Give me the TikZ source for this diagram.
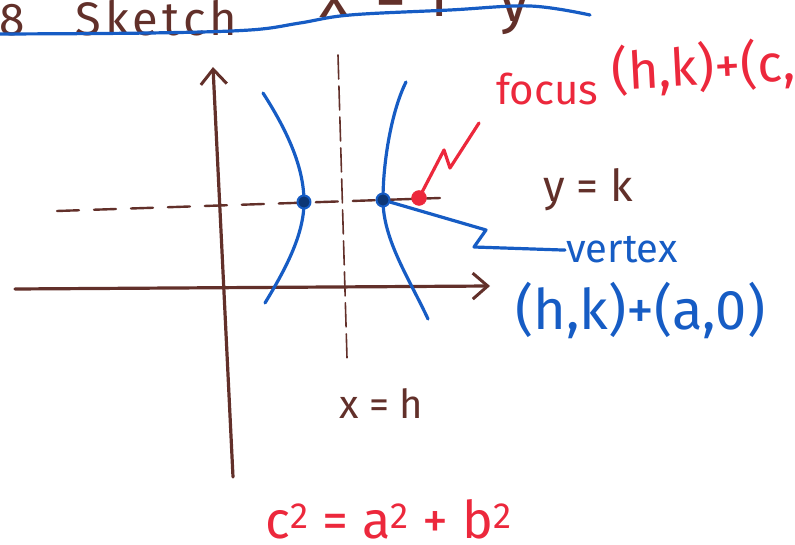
\documentclass[tikz,border=0pt]{standalone}
\usepackage{fontspec}
\setmainfont{Fira Sans}
\usepackage{tikz}
\usetikzlibrary{arrows.meta}
\definecolor{penbrown}{RGB}{98,48,42}
\definecolor{penblue}{RGB}{22,92,196}
\definecolor{penred}{RGB}{236,40,60}

\begin{document}
\begin{tikzpicture}[
    x=1pt, y=-1pt,
    line cap=round, line join=round,
    axis/.style={draw=penbrown, line width=3.2pt, -{Straight Barb[length=15pt,width=26pt,line width=3pt]}},
    guide/.style={draw=penbrown, line width=2.4pt, dash pattern=on 22pt off 15pt},
    bluepen/.style={draw=penblue, line width=3.2pt},
    redpen/.style={draw=penred, line width=3.2pt},
    vdot/.style={circle, draw=penblue, fill=penblue!60!black, line width=2pt, inner sep=0pt, minimum size=13pt},
    fdot/.style={circle, draw=penred, fill=penred, inner sep=0pt, minimum size=15pt},
    brownlbl/.style={text=penbrown, inner sep=1pt},
    bluelbl/.style={text=penblue, inner sep=1pt},
    redlbl/.style={text=penred, inner sep=1pt}
]
\useasboundingbox (0,0) rectangle (795,545);
\clip (0,0) rectangle (795,545);

\node[brownlbl, anchor=base west, font=\fontsize{46}{52}\selectfont] (num) at (-2,36) {8};
\node[brownlbl, anchor=base west, font=\fontsize{47}{53}\selectfont\addfontfeature{LetterSpace=9}] (sketch) at (74,36) {Sketch};
\node[brownlbl, anchor=base west, font=\fontsize{62}{68}\selectfont] (tx) at (318,18) {x};
\node[brownlbl, anchor=base, font=\fontsize{62}{68}\selectfont] (tminus) at (391,24) {−};
\node[brownlbl, anchor=base, font=\fontsize{62}{68}\selectfont] (tone) at (436,17) {1};
\node[brownlbl, anchor=base west, font=\fontsize{62}{68}\selectfont] (ty) at (498,22) {y};
\draw[bluepen] plot[smooth, tension=0.6] coordinates {(0,34) (150,33) (250,30) (300,23) (350,15) (450,10) (530,6) (590,15)};

\coordinate (v1) at (304,202);
\coordinate (v2) at (383,200);
\coordinate (f1) at (419,198);

\draw[guide] (57,211) -- (440,198);
\draw[guide, line width=1.6pt, dash pattern=on 24pt off 7pt] (338,55) -- (347,358);
\draw[axis] (15,289) -- (490,286);
\draw[axis] (233,477) -- (213,67);

\draw[bluepen] (263,93) .. controls (290,135) and (304,170) .. (v1)
    .. controls (304,235) and (285,270) .. (265,303);
\draw[bluepen] (406,82) .. controls (392,110) and (383,160) .. (v2)
    .. controls (383,240) and (410,280) .. (428,319);

\node[vdot] (vl) at (v1) {};
\node[vdot] (vr) at (v2) {};
\node[fdot] (fc) at (f1) {};

\node[redlbl, anchor=base west, font=\fontsize{42}{48}\selectfont] (flabel) at (495,105) {focus};
\node[redlbl, anchor=base west, rotate=3, font=\fontsize{52}{58}\selectfont] (fpoint) at (611,90) {(h,k)+(c,0)};
\node[brownlbl, anchor=base west, font=\fontsize{44}{50}\selectfont] (ylabel) at (542,202) {y = k};
\node[bluelbl, anchor=base west, font=\fontsize{40}{46}\selectfont] (vlabel) at (565,263) {vertex};
\node[bluelbl, anchor=base west, font=\fontsize{56}{62}\selectfont] (vpoint) at (514,330) {(h,k)+(a,0)};
\node[brownlbl, anchor=base west, font=\fontsize{40}{46}\selectfont] (xlabel) at (338,418) {x = h};
\node[redlbl, anchor=base west, font=\fontsize{52}{58}\selectfont] (rel) at (264,538) {c\textsuperscript{2} = a\textsuperscript{2} + b\textsuperscript{2}};

\coordinate (ftip) at (479,123);
\draw[redpen] (fc) -- ++(25,-48) -- ++(6,18) -- (ftip);
\draw[bluepen] (vr) -- ++(103,30) -- ++(-12,17) -- (vlabel.west);
\end{tikzpicture}
\end{document}
